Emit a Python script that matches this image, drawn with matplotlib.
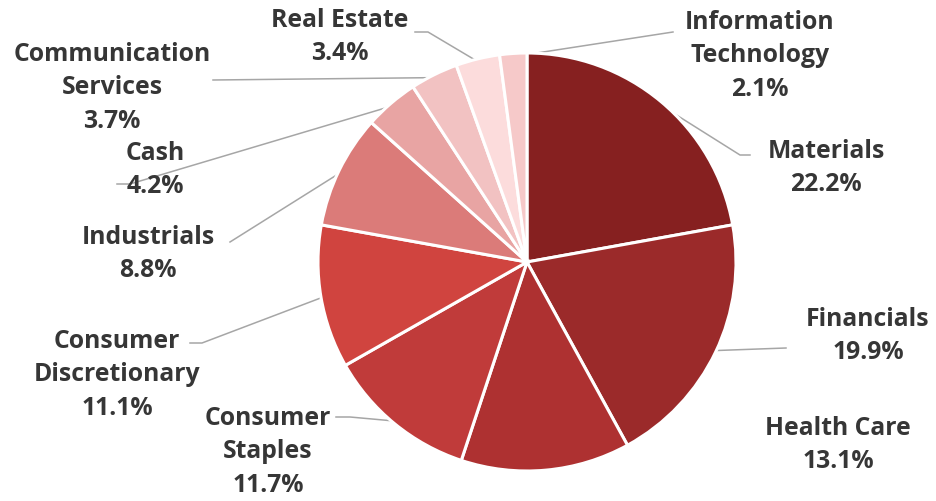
import matplotlib
matplotlib.use("Agg")
import matplotlib.pyplot as plt
import numpy as np

sectors = ["Materials", "Financials", "Health Care", "Consumer\nStaples",
           "Consumer\nDiscretionary", "Industrials", "Cash",
           "Communication\nServices", "Real Estate", "Information\nTechnology"]
weights = [22.2, 19.9, 13.1, 11.7, 11.1, 8.8, 4.2, 3.7, 3.4, 2.1]
colors = ["#862020", "#9B2A2A", "#AE3131", "#C03B3A", "#D0443F",
          "#DB7B79", "#E8A4A3", "#F2C2C2", "#FCDCDC", "#F6C9C9"]

W, H = 936, 502
fig = plt.figure(figsize=(W / 100, H / 100), dpi=100)
ax = fig.add_axes([0, 0, 1, 1])

cx, cy, r = 527, H - 263, 209
wedges, _ = ax.pie(weights, colors=colors, startangle=90, counterclock=False,
                   center=(cx, cy), radius=r, frame=True,
                   wedgeprops=dict(edgecolor="white", linewidth=2.2))
ax.set_xlim(0, W)
ax.set_ylim(0, H)
ax.set_aspect("equal")
ax.axis("off")

# label layout (pixel coords, y from top): text center, leader path from label side
layout = {
    0: ((826, 168), [(750, 156), (740, 156)]),
    1: ((868, 336), [(786, 349)]),
    2: ((838, 445), None),
    3: ((268, 452), [(336, 418), (350, 418)]),
    4: ((117, 375), [(190, 344), (202, 344)]),
    5: ((148, 254), [(230, 243)]),
    6: ((155, 170), [(117, 185), (130, 185)]),
    7: ((112, 88), [(213, 81)]),
    8: ((340, 37), [(415, 33), (428, 33)]),
    9: ((760, 56), [(673, 33)]),
}

font = dict(family=["Open Sans", "DejaVu Sans"], fontsize=17.8, fontweight="bold",
            color="#363636")
for i, w in enumerate(wedges):
    (tx, ty), path = layout[i]
    ax.text(tx, H - ty, f"{sectors[i]}\n{weights[i]:.1f}%", ha="center",
            va="center", linespacing=1.47, **font)
    if path:
        ang = np.deg2rad((w.theta1 + w.theta2) / 2)
        ex, ey = cx + r * 0.985 * np.cos(ang), cy + r * 0.985 * np.sin(ang)
        xs = [p[0] for p in path] + [ex]
        ys = [H - p[1] for p in path] + [ey]
        ax.plot(xs, ys, color="#A6A6A6", lw=1.1, zorder=0.5)

fig.savefig("out.png", dpi=100, facecolor="white")
